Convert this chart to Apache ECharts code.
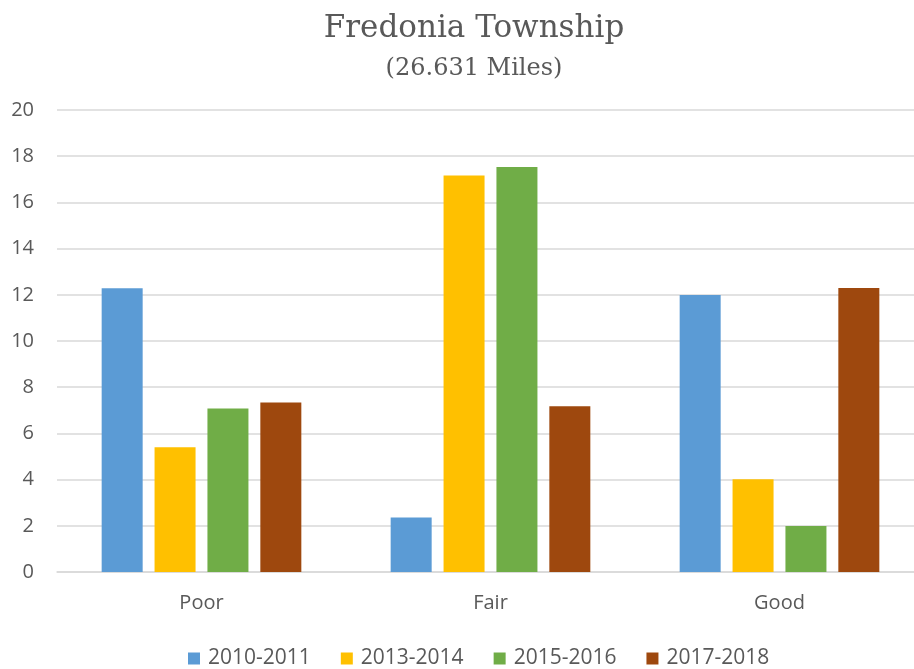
<!DOCTYPE html>
<html><head><meta charset="utf-8">
<script src="https://cdn.jsdelivr.net/npm/echarts@6/dist/echarts.min.js"></script>
<style>html,body{margin:0;padding:0;background:#fff}#c{width:914px;height:669px}</style>
</head><body><div id="c"></div>
<script>
const categories = ['Poor', 'Fair', 'Good'];
const seriesNames = ['2010-2011', '2013-2014', '2015-2016', '2017-2018'];
const s2010 = [12.28, 2.36, 11.99];
const s2013 = [5.40, 17.16, 4.02];
const s2015 = [7.08, 17.53, 1.99];
const s2017 = [7.34, 7.17, 12.29];
const colors = ['#5B9BD5', '#FFC000', '#70AD47', '#9E480E'];
const yTicks = [0, 2, 4, 6, 8, 10, 12, 14, 16, 18, 20];

const chart = echarts.init(document.getElementById('c'));
const data = [s2010, s2013, s2015, s2017];
chart.setOption({
  animation: false,
  title: [
    { text: 'Fredonia Township', left: 469, top: 8, textAlign: 'center',
      textStyle: { fontFamily: 'DejaVu Serif', fontWeight: 'normal', fontSize: 31, color: '#595959' } },
    { text: '(26.631 Miles)', left: 469, top: 52, textAlign: 'center',
      textStyle: { fontFamily: 'DejaVu Serif', fontWeight: 'normal', fontSize: 24, color: '#595959' } }
  ],
  legend: {
    top: 643, left: 183, itemWidth: 12, itemHeight: 12, itemGap: 30,
    icon: 'rect',
    textStyle: { fontFamily: 'Open Sans', fontSize: 21, color: '#595959', padding: [0, 0, 0, 3] },
    data: seriesNames
  },
  grid: { left: 57, width: 867, top: 110, height: 462, containLabel: false, outerBoundsMode: 'none' },
  xAxis: {
    type: 'category', data: categories,
    axisLine: { lineStyle: { color: '#D9D9D9', width: 1.5 } },
    axisTick: { show: false },
    axisLabel: { fontFamily: 'Open Sans', fontSize: 20, color: '#595959', margin: 21 }
  },
  yAxis: {
    type: 'value', min: yTicks[0], max: yTicks[yTicks.length - 1], interval: 2,
    axisLine: { show: false }, axisTick: { show: false },
    axisLabel: { fontFamily: 'Open Sans', fontSize: 20, color: '#595959', margin: 23 },
    splitLine: { lineStyle: { color: '#D9D9D9', width: 1.5 } }
  },
  series: seriesNames.map((n, i) => ({
    name: n, type: 'bar', data: data[i], barWidth: 41, barGap: '29%',
    itemStyle: { color: colors[i] }
  }))
});
</script></body></html>
